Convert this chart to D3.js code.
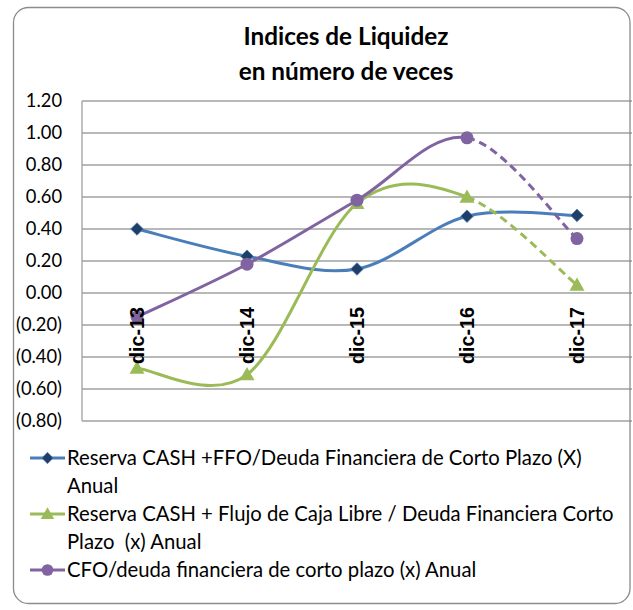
<!DOCTYPE html>
<html><head><meta charset="utf-8">
<script src="https://cdn.jsdelivr.net/npm/d3@7"></script>
<style>body{margin:0;background:#fff}svg{display:block}text{white-space:pre}</style>
</head><body>
<svg id="c" width="633" height="610"></svg>
<script>
const categories = ["dic-13","dic-14","dic-15","dic-16","dic-17"];
const serieCash = [0.40, 0.23, 0.15, 0.48, 0.485];
const serieFlujo = [-0.47, -0.51, 0.56, 0.60, 0.05];
const serieCfo = [-0.15, 0.18, 0.58, 0.97, 0.34];
const yTicks = [1.2,1.0,0.8,0.6,0.4,0.2,0,-0.2,-0.4,-0.6,-0.8];
const titleLines = ["Indices de Liquidez","en número de veces"];
const legendLabels = [
  ["Reserva CASH +FFO/Deuda Financiera de Corto Plazo (X)","Anual"],
  ["Reserva CASH + Flujo de Caja Libre / Deuda Financiera Corto","Plazo  (x) Anual"],
  ["CFO/deuda financiera de corto plazo (x) Anual"]
];

const series = [
  {values: serieCash, color:"#4A7EBB", marker:"diamond", mfill:"#1F3F66", dashLast:false},
  {values: serieFlujo, color:"#9BBB59", marker:"triangle", mfill:"#9BBB59", dashLast:true},
  {values: serieCfo, color:"#8064A2", marker:"circle", mfill:"#8064A2", dashLast:true}
];

const svg = d3.select("#c");
const font = "Lato, 'Open Sans', sans-serif";
const L=82, R=632, T=101, B=421;
const x = d3.scaleBand().domain(categories).range([L,R]);
const y = d3.scaleLinear().domain([-0.8,1.2]).range([B,T]);

function fitSize(sel, target){
  const n = sel.node(); const fs = parseFloat(sel.attr("font-size"));
  const w = n.getComputedTextLength();
  return fs*target/w;
}

// title
const tt = svg.append("g").selectAll("text").data(titleLines).join("text")
  .attr("x",346).attr("y",(d,i)=>45+i*35)
  .attr("text-anchor","middle").attr("font-family",font).attr("font-weight","bold")
  .attr("font-size",21).attr("fill","#000").text(d=>d);
const tfs = fitSize(d3.select(tt.nodes()[0]), 205);
tt.attr("font-size",tfs);

// gridlines
svg.append("g").selectAll("line").data(yTicks).join("line")
  .attr("x1",L).attr("x2",R).attr("y1",d=>y(d)).attr("y2",d=>y(d))
  .attr("stroke","#A0A0A0").attr("stroke-width",1.3);
svg.append("line").attr("x1",L).attr("x2",L).attr("y1",T).attr("y2",B)
  .attr("stroke","#A0A0A0").attr("stroke-width",1.3);

// y labels
const fmt = v => { const s = Math.abs(v).toFixed(2); return v < -1e-9 ? "("+s+")" : s; };
const yl = svg.append("g").selectAll("text").data(yTicks).join("text")
  .attr("x",62).attr("y",d=>y(d)).attr("dy","0.35em").attr("text-anchor","end")
  .attr("font-family",font).attr("font-size",15.5).attr("fill","#000").text(fmt);
yl.attr("font-size", fitSize(d3.select(yl.nodes()[yl.nodes().length-1]), 46));

const cx = c => x(c) + x.bandwidth()/2;

function segPath(pts, i){
  const p0 = pts[Math.max(i-1,0)], p1 = pts[i], p2 = pts[i+1], p3 = pts[Math.min(i+2,pts.length-1)];
  const c1 = [p1[0]+(p2[0]-p0[0])/6, p1[1]+(p2[1]-p0[1])/6];
  const c2 = [p2[0]-(p3[0]-p1[0])/6, p2[1]-(p3[1]-p1[1])/6];
  return `M${p1[0]},${p1[1]}C${c1[0]},${c1[1]} ${c2[0]},${c2[1]} ${p2[0]},${p2[1]}`;
}
function solidPath(pts, n){
  let d = "";
  for(let i=0;i<n;i++){ d += segPath(pts,i).replace(/^M[^C]*/, i===0 ? `M${pts[0][0]},${pts[0][1]}` : ""); }
  return d;
}
function marker(g, type, px, py, fill, scale=1){
  if(type==="diamond"){
    const s=6.3*scale;
    g.append("path").attr("d",`M${px},${py-s}L${px+s},${py}L${px},${py+s}L${px-s},${py}Z`).attr("fill",fill).attr("stroke","#4A7EBB").attr("stroke-width",0.8);
  } else if(type==="triangle"){
    const s=7.5*scale;
    g.append("path").attr("d",`M${px},${py-s}L${px+s},${py+s*0.75}L${px-s},${py+s*0.75}Z`).attr("fill",fill);
  } else {
    g.append("circle").attr("cx",px).attr("cy",py).attr("r",6.5*scale).attr("fill",fill);
  }
}

const gs = svg.append("g");
series.forEach(s=>{
  const pts = s.values.map((v,i)=>[cx(categories[i]), y(v)]);
  const n = pts.length-1;
  const solidN = s.dashLast ? n-1 : n;
  gs.append("path").attr("d",solidPath(pts,solidN)).attr("fill","none")
    .attr("stroke",s.color).attr("stroke-width",3).attr("stroke-linecap","round");
  if(s.dashLast){
    gs.append("path").attr("d",segPath(pts,n-1)).attr("fill","none")
      .attr("stroke",s.color).attr("stroke-width",3).attr("stroke-dasharray","8,5");
  }
  pts.forEach(p=>marker(gs, s.marker, p[0], p[1], s.mfill));
});

// category labels
const cl = svg.append("g").selectAll("text").data(categories).join("text")
  .attr("transform",d=>`translate(${cx(d)},${y(0)+14}) rotate(-90)`)
  .attr("text-anchor","end").attr("dy","0.36em")
  .attr("font-family","'Liberation Sans', Arial, sans-serif").attr("font-weight","bold")
  .attr("font-size",15).attr("fill","#000").text(d=>d);
cl.attr("font-size", fitSize(d3.select(cl.nodes()[0]), 57));

// legend
const lg = svg.append("g");
let ly = 458;
const legTexts = [];
legendLabels.forEach((lines,i)=>{
  const s = series[i];
  lg.append("line").attr("x1",30).attr("x2",65).attr("y1",ly).attr("y2",ly)
    .attr("stroke",s.color).attr("stroke-width",3);
  marker(lg, s.marker, 47.5, ly, s.mfill, 0.9);
  lines.forEach((t,j)=>{
    legTexts.push(lg.append("text").attr("x",67).attr("y",ly+j*28).attr("dy","0.35em")
      .attr("font-family",font).attr("font-size",17.5).attr("fill","#000").text(t).node());
  });
  ly += lines.length*28;
});
const lfs = fitSize(d3.select(legTexts[0]), 515);
legTexts.forEach(n=>d3.select(n).attr("font-size",lfs));

// outer border
svg.append("rect").attr("x",13.5).attr("y",7.5).attr("width",616.5).attr("height",596)
  .attr("rx",15).attr("fill","none").attr("stroke","#8C8C8C").attr("stroke-width",1.3);
</script>
</body></html>
